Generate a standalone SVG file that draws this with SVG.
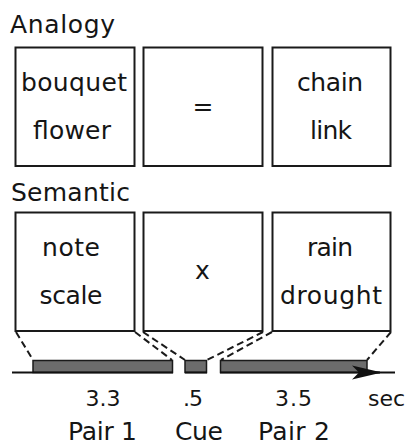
<svg xmlns="http://www.w3.org/2000/svg" width="407" height="446" viewBox="0 0 407 446">
<style>
text{font-family:"DejaVu Sans","Liberation Sans",sans-serif;fill:#151515;font-size:25px}
.c{text-anchor:middle}
.s{font-size:22px}
.box{fill:#fff;stroke:#1a1a1a;stroke-width:2}
.bar{fill:#6c6c6c;stroke:#1a1a1a;stroke-width:1.5}
.dash{stroke:#1a1a1a;stroke-width:2;stroke-dasharray:7 4;fill:none}
.axis{stroke:#111;stroke-width:2;fill:none}
</style>
<defs>
<marker id="arr" viewBox="0 0 32 16" refX="30" refY="8" markerWidth="32" markerHeight="16" markerUnits="userSpaceOnUse" orient="auto">
<path d="M32 8 L2 1 L9 8 L2 15 Z" fill="#111"/>
</marker>
</defs>
<g id="title-analogy"><text x="10" y="33" textLength="105">Analogy</text></g>
<g id="title-semantic"><text x="11" y="201" textLength="119">Semantic</text></g>
<g id="a-pair1"><rect class="box" x="15.5" y="47.5" width="119" height="118.5"/>
<text class="c" x="74" y="91" textLength="106">bouquet</text>
<text class="c" x="72" y="139" textLength="78">flower</text></g>
<g id="a-cue"><rect class="box" x="143.5" y="47.5" width="119" height="118.5"/>
<text class="c" x="203" y="115">=</text></g>
<g id="a-pair2"><rect class="box" x="272.5" y="47.5" width="118" height="118.5"/>
<text class="c" x="330" y="91" textLength="66">chain</text>
<text class="c" x="331" y="139" textLength="42">link</text></g>
<g id="s-pair1"><rect class="box" x="15.5" y="212.5" width="119" height="118.5"/>
<text class="c" x="71" y="256" textLength="58">note</text>
<text class="c" x="71" y="304" textLength="63">scale</text></g>
<g id="s-cue"><rect class="box" x="143.5" y="212.5" width="119" height="118.5"/>
<text class="c" x="202.5" y="279">x</text></g>
<g id="s-pair2"><rect class="box" x="272.5" y="212.5" width="118" height="118.5"/>
<text class="c" x="330" y="256" textLength="46">rain</text>
<text class="c" x="331" y="304" textLength="102">drought</text></g>
<g id="bar-pair1"><rect class="bar" x="33" y="360.5" width="139.5" height="12"/></g>
<g id="bar-cue"><rect class="bar" x="185" y="360.5" width="21.5" height="12"/></g>
<g id="bar-pair2"><rect class="bar" x="220.5" y="360.5" width="146.5" height="12"/></g>
<g id="connectors">
<path class="axis" d="M12 372.5 H173 M185 372.5 H207 M220 372.5 H395"/>
<path class="axis" d="M366 372.5 H380" marker-end="url(#arr)"/>
<path class="dash" d="M16 332 L33 360"/>
<path class="dash" d="M135 332 L172 360"/>
<path class="dash" d="M143 332 L185 360"/>
<path class="dash" d="M263 332 L207 360"/>
<path class="dash" d="M272 332 L221 360"/>
<path class="dash" d="M391 332 L367 360"/>
</g>
<g id="labels">
<text class="c s" x="103" y="406" textLength="35">3.3</text>
<text class="c s" x="193" y="406" textLength="20">.5</text>
<text class="c s" x="293.5" y="406" textLength="37">3.5</text>
<text class="c s" x="386.5" y="406" textLength="37">sec</text>
<text class="c" x="102.5" y="440" textLength="69">Pair 1</text>
<text class="c" x="199" y="440" textLength="48">Cue</text>
<text class="c" x="294" y="440" textLength="72">Pair 2</text>
</g>
</svg>
